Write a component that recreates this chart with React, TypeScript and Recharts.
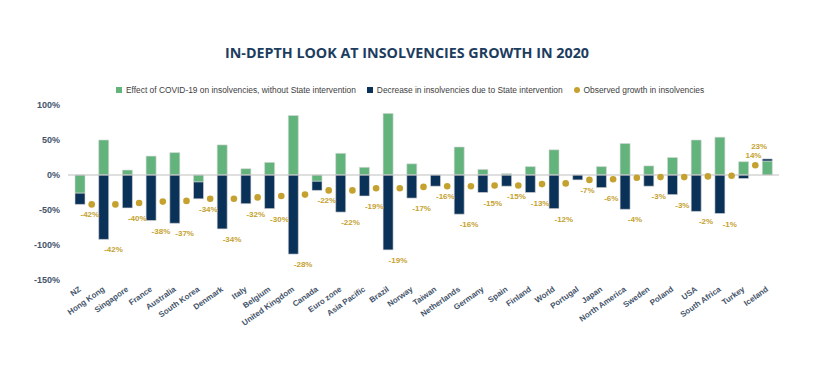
import {
  ComposedChart,
  Bar,
  Line,
  XAxis,
  YAxis,
  ReferenceLine,
  LabelList,
} from 'recharts';

const countries = [
  'NZ', 'Hong Kong', 'Singapore', 'France', 'Australia', 'South Korea', 'Denmark', 'Italy',
  'Belgium', 'United Kingdom', 'Canada', 'Euro zone', 'Asia Pacific', 'Brazil', 'Norway',
  'Taiwan', 'Netherlands', 'Germany', 'Spain', 'Finland', 'World', 'Portugal', 'Japan',
  'North America', 'Sweden', 'Poland', 'USA', 'South Africa', 'Turkey', 'Iceland',
];

// effect of covid without state help (green)
const covidEffect = [
  -26, 50, 7, 27, 32, -10, 43, 9, 18, 85, -9, 31, 11, 88, 16,
  0, 40, 8, 2, 12, 36, 0, 12, 45, 13, 25, 50, 54, 19, 20,
];

// decrease due to state intervention (navy)
const stateDecrease = [
  -16, -92, -47, -65, -69, -24, -77, -41, -48, -113, -13, -53, -30, -107, -33,
  -16, -56, -25, -16, -25, -48, -7, -18, -49, -16, -28, -52, -55, -5, 3,
];

// observed growth (gold dots + labels)
const observed = [
  -42, -42, -40, -38, -37, -34, -34, -32, -30, -28, -22, -22, -19, -19, -17,
  -16, -16, -15, -15, -13, -12, -7, -6, -4, -3, -3, -2, -1, 14, 23,
];

const yTicks = [-150, -100, -50, 0, 50, 100];

const GREEN = '#63b37c';
const NAVY = '#0a3158';
const GOLD = '#c5a22f';
const AXIS_TEXT = '#44546a';
const FONT = "'Liberation Sans', Arial, sans-serif";

const W = 814;
const H = 373;
const margin = { top: 105, right: 35, bottom: 13, left: 8 };
const Y_AXIS_W = 60;
const HALF_BAND = (W - margin.left - margin.right - Y_AXIS_W) / countries.length / 2;

const data = countries.map((c, i) => {
  const neg = Math.min(0, covidEffect[i]) + Math.min(0, stateDecrease[i]);
  const pos = Math.max(0, covidEffect[i]) + Math.max(0, stateDecrease[i]);
  return {
    country: c,
    effect: covidEffect[i],
    decrease: stateDecrease[i],
    observed: observed[i],
    labelAt: observed[i] < 0 ? neg : pos,
  };
});

const XTick = ({ x, y, payload }: any) => (
  <g transform={`translate(${x},${y})`}>
    <text
      x={0}
      y={0}
      dy={3}
      textAnchor="end"
      transform="rotate(-35)"
      fill={AXIS_TEXT}
      fontFamily={FONT}
      fontWeight="bold"
      fontSize={8}
    >
      {payload.value}
    </text>
  </g>
);

const ObservedDot = (props: any) => {
  const { cx, cy, index } = props;
  if (index === countries.length - 1 || cx == null) return <g key={`d-${index}`} />;
  return <circle key={`d-${index}`} cx={cx + HALF_BAND} cy={cy} r={3.3} fill={GOLD} />;
};

const ValueLabel = (props: any) => {
  const { x, y, value, index } = props;
  // last label sits left of its bar and a bit higher in the original
  const last = index === countries.length - 1;
  const dx = last ? -8 : 10;
  const ty = value < 0 ? y + 13 : y - (last ? 10 : 4);
  return (
    <text
      x={x + dx}
      y={ty}
      textAnchor="middle"
      fill={GOLD}
      fontFamily={FONT}
      fontWeight="bold"
      fontSize={8}
    >
      {`${value}%`}
    </text>
  );
};

const legendItems = [
  { label: 'Effect of COVID-19 on insolvencies, without State intervention', color: GREEN, round: false },
  { label: 'Decrease in insolvencies due to State intervention', color: NAVY, round: false },
  { label: 'Observed growth in insolvencies', color: GOLD, round: true },
];

export default function App() {
  return (
    <div style={{ position: 'absolute', left: 0, top: 0, width: W, height: H, background: '#fff' }}>
      <div
        style={{
          position: 'absolute',
          top: 43,
          left: 0,
          width: W,
          textAlign: 'center',
          fontFamily: "'Open Sans', sans-serif",
          fontWeight: 700,
          fontSize: 14.3,
          color: '#1d3d5f',
        }}
      >
        IN-DEPTH LOOK AT INSOLVENCIES GROWTH IN 2020
      </div>
      <div
        style={{
          position: 'absolute',
          top: 85,
          left: 116,
          display: 'flex',
          alignItems: 'center',
          fontFamily: FONT,
          fontSize: 8.4,
          color: '#404040',
        }}
      >
        {legendItems.map((it) => (
          <div key={it.label} style={{ display: 'flex', alignItems: 'center', marginRight: 11 }}>
            <span
              style={{
                display: 'inline-block',
                width: 6,
                height: 6,
                background: it.color,
                borderRadius: it.round ? 3 : 0,
                marginRight: 4,
              }}
            />
            {it.label}
          </div>
        ))}
      </div>
      <ComposedChart width={W} height={H} data={data} margin={margin} stackOffset="sign">
        <XAxis
          dataKey="country"
          interval={0}
          axisLine={false}
          tickLine={false}
          tick={<XTick />}
          height={80}
        />
        <YAxis
          domain={[-150, 100]}
          ticks={yTicks}
          tickFormatter={(v) => `${v}%`}
          axisLine={false}
          tickLine={false}
          width={Y_AXIS_W}
          tick={{ fill: AXIS_TEXT, fontSize: 9, fontWeight: 'bold', fontFamily: FONT }}
        />
        <Bar dataKey="effect" stackId="s" fill={GREEN} stroke="#d6d6d6" strokeWidth={0.6} barSize={10} isAnimationActive={false} />
        <Bar dataKey="decrease" stackId="s" fill={NAVY} stroke="#d6d6d6" strokeWidth={0.6} barSize={10} isAnimationActive={false} />
        <ReferenceLine y={0} stroke="#bfbfbf" strokeWidth={1.2} />
        <Line
          dataKey="observed"
          stroke="none"
          dot={ObservedDot}
          activeDot={false}
          isAnimationActive={false}
        />
        <Line dataKey="labelAt" stroke="none" dot={false} activeDot={false} isAnimationActive={false}>
          <LabelList dataKey="observed" content={ValueLabel} />
        </Line>
      </ComposedChart>
    </div>
  );
}
